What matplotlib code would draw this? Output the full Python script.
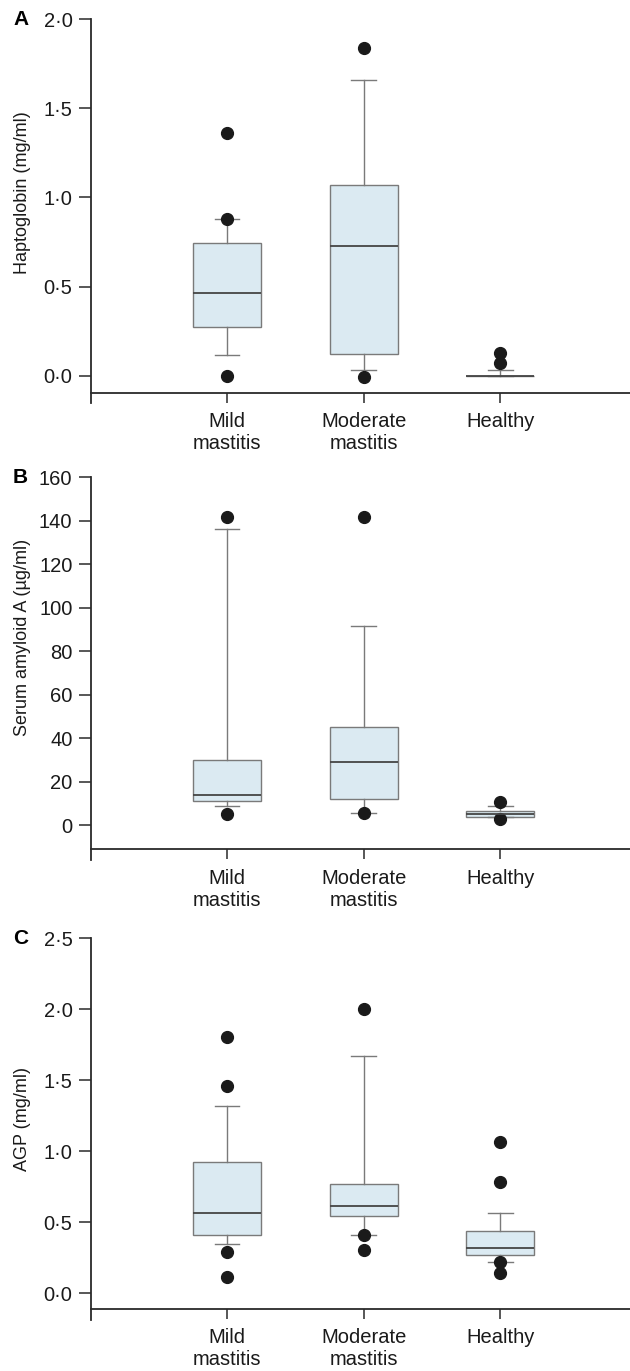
import matplotlib
matplotlib.use("Agg")
import matplotlib.pyplot as plt
from matplotlib.ticker import FuncFormatter

plt.rcParams['font.family'] = ['Liberation Sans', 'DejaVu Sans']

groups = ["Mild\nmastitis", "Moderate\nmastitis", "Healthy"]

# panel A - haptoglobin (mg/ml)
hp_q1 = [0.275, 0.12, 0.0]
hp_med = [0.466, 0.73, 0.0]
hp_q3 = [0.742, 1.07, 0.0]
hp_lo = [0.118, 0.034, 0.0]
hp_hi = [0.88, 1.66, 0.034]
hp_out = [[1.36, 0.88, 0.0], [1.84, -0.005], [0.13, 0.07]]

# panel B - serum amyloid A (ug/ml)
saa_q1 = [11.0, 12.0, 3.7]
saa_med = [13.8, 29.0, 5.0]
saa_q3 = [30.0, 45.0, 6.4]
saa_lo = [8.7, 5.5, 3.7]
saa_hi = [136.0, 91.5, 8.7]
saa_out = [[141.6, 5.0], [141.6, 5.5], [10.6, 3.0]]

# panel C - AGP (mg/ml)
agp_q1 = [0.41, 0.54, 0.27]
agp_med = [0.565, 0.61, 0.32]
agp_q3 = [0.92, 0.77, 0.44]
agp_lo = [0.345, 0.41, 0.22]
agp_hi = [1.32, 1.67, 0.56]
agp_out = [[1.80, 1.46, 0.29, 0.11], [2.0, 0.41, 0.30], [1.06, 0.78, 0.22, 0.14]]

W, H = 630, 1371
LEFT = 90.5
fig = plt.figure(figsize=(W / 100, H / 100), dpi=100)

def px_axes(top, bottom, left=LEFT, right=630):
    return fig.add_axes([left / W, 1 - bottom / H, (right - left) / W, (bottom - top) / H])

def dot_fmt(v, pos):
    return f"{v:.1f}".replace(".", "\u00b7")

panels = [
    ("A", "Haptoglobin (mg/ml)", hp_q1, hp_med, hp_q3, hp_lo, hp_hi, hp_out,
     19, 403, (-0.152, 2.0), -0.095, [0, 0.5, 1.0, 1.5, 2.0], True, 0.549),
    ("B", "Serum amyloid A (\u00b5g/ml)", saa_q1, saa_med, saa_q3, saa_lo, saa_hi, saa_out,
     477, 860, (-16, 160), -11, list(range(0, 161, 20)), False, 0.582),
    ("C", "AGP (mg/ml)", agp_q1, agp_med, agp_q3, agp_lo, agp_hi, agp_out,
     938, 1320, (-0.19, 2.5), -0.11, [0, 0.5, 1.0, 1.5, 2.0, 2.5], True, 0.526),
]

for (letter, ylabel, q1, med, q3, lo, hi, out, top, bottom, ylim, base,
     yticks, dotted, label_y) in panels:
    ax = px_axes(top, bottom)
    stats = []
    for i in range(len(groups)):
        stats.append(dict(q1=q1[i], med=med[i], q3=q3[i], whislo=lo[i],
                          whishi=hi[i], fliers=out[i], label=groups[i]))
    ax.bxp(stats, positions=[1, 2, 3], widths=0.5, capwidths=0.18,
           patch_artist=True,
           boxprops=dict(facecolor="#dbeaf2", edgecolor="#7a7a7a", linewidth=1.0),
           medianprops=dict(color="#454545", linewidth=1.3),
           whiskerprops=dict(color="#7a7a7a", linewidth=1.0),
           capprops=dict(color="#7a7a7a", linewidth=1.0),
           flierprops=dict(marker="o", markerfacecolor="#1a1a1a",
                           markeredgecolor="#1a1a1a", markersize=8.5))
    ax.set_xlim(0, 3.95)
    ax.set_ylim(*ylim)
    ax.set_yticks(yticks)
    if dotted:
        ax.yaxis.set_major_formatter(FuncFormatter(dot_fmt))
    ax.set_xticks([1, 2, 3])
    ax.set_xticklabels(groups, linespacing=0.95)
    for s in ["top", "right"]:
        ax.spines[s].set_visible(False)
    ax.spines["bottom"].set_position(("data", base))
    for s in ["left", "bottom"]:
        ax.spines[s].set_color("#2a2a2a")
        ax.spines[s].set_linewidth(1.3)
    ax.spines["left"].set_bounds(ylim[0], ylim[1])
    ax.tick_params(axis="y", direction="out", length=9, width=1.1,
                   color="#2a2a2a", labelsize=14.5, pad=4, labelcolor="#1a1a1a")
    ax.tick_params(axis="x", direction="out", length=7, width=1.1,
                   color="#2a2a2a", labelsize=14.5, pad=7, labelcolor="#1a1a1a")
    ax.set_ylabel(ylabel, fontsize=13, color="#1a1a1a")
    ax.yaxis.set_label_coords((31 - LEFT) / (W - LEFT), label_y)
    ax.text((13 - LEFT) / (W - LEFT), 1.0, letter, transform=ax.transAxes,
            fontsize=15, fontweight="bold", ha="left", va="center")

fig.savefig("out.png", dpi=100)
